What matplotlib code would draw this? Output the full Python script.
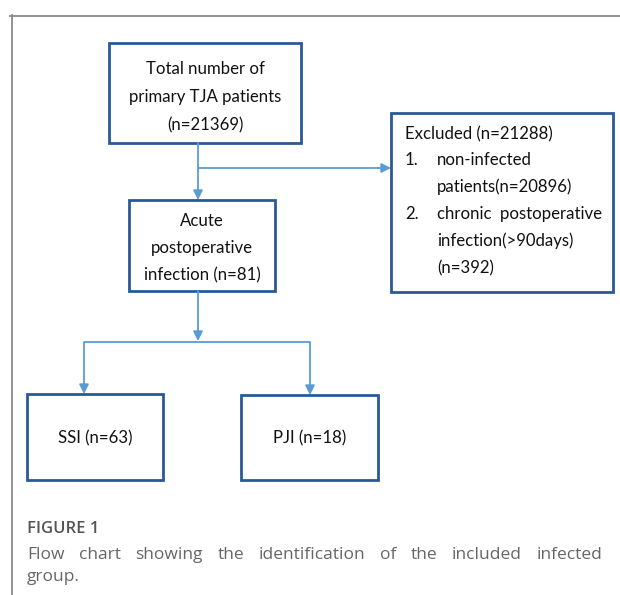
import matplotlib
matplotlib.use("Agg")
import matplotlib.pyplot as plt
from matplotlib.patches import Rectangle, FancyArrowPatch

# ---- data ----
total_label = ["Total number of", "primary TJA patients", "(n=21369)"]
acute_label = ["Acute", "postoperative", "infection (n=81)"]
excluded_label = ["Excluded (n=21288)"]
excluded_items = [("1.", ["non-infected", "patients(n=20896)"]),
                  ("2.", ["chronic  postoperative", "infection(>90days)", "(n=392)"])]
ssi_label = "SSI (n=63)"
pji_label = "PJI (n=18)"
caption_head = "FIGURE 1"
caption_lines = ["Flow chart showing the identification of the included infected", "group."]

W, H = 620, 595
fig = plt.figure(figsize=(W / 100, H / 100), dpi=100)
ax = fig.add_axes([0, 0, 1, 1])
ax.set_xlim(0, W)
ax.set_ylim(H, 0)
ax.axis("off")

box_color = "#2a5a96"
line_color = "#5b9bd5"
font = "Lato"
fs = 12.1
tc = "#111111"

# frame lines
ax.plot([10, W], [15.5, 15.5], color="#8a8a8a", lw=1.3)
ax.plot([11.5, 11.5], [15, H], color="#8a8a8a", lw=1.3)

def box(x0, y0, x1, y1):
    ax.add_patch(Rectangle((x0, y0), x1 - x0, y1 - y0, fill=False,
                           edgecolor=box_color, lw=2.0))

def arrow(x0, y0, x1, y1):
    ax.add_patch(FancyArrowPatch((x0, y0), (x1, y1), arrowstyle="-|>",
                                 mutation_scale=14, color=line_color, lw=1.3,
                                 shrinkA=0, shrinkB=0))

def line(xs, ys):
    ax.plot(xs, ys, color=line_color, lw=1.3, solid_capstyle="butt")

# boxes
box(109, 43, 301, 143)
box(129, 200, 275, 291)
box(391, 113, 613, 292)
box(27, 394, 163, 480)
box(241, 395, 378, 480)

# connectors
arrow(198, 143, 198, 200)
arrow(198, 168, 391, 168)
arrow(198, 291, 198, 341)
line([84, 310], [342, 342])
arrow(84, 342, 84, 394)
arrow(310, 342, 310, 395)

# box texts
for i, t in enumerate(total_label):
    ax.text(205, 69 + i * 28, t, ha="center", va="center", fontsize=fs, family=font, color=tc)
for i, t in enumerate(acute_label):
    ax.text(202, 221 + i * 27, t, ha="center", va="center", fontsize=fs, family=font, color=tc)
ax.text(405, 134, excluded_label[0], ha="left", va="center", fontsize=fs, family=font, color=tc)
y = 160
for num, lines in excluded_items:
    ax.text(405, y, num, ha="left", va="center", fontsize=fs, family=font, color=tc)
    for ln in lines:
        ax.text(437, y, ln, ha="left", va="center", fontsize=fs, family=font, color=tc)
        y += 27
ax.text(95, 438, ssi_label, ha="center", va="center", fontsize=fs, family=font, color=tc)
ax.text(310, 438, pji_label, ha="center", va="center", fontsize=fs, family=font, color=tc)

# caption
ax.text(27, 529, caption_head, ha="left", va="center", fontsize=12,
        family="Open Sans", color="#555555", weight="semibold")
cap_fs = 12.5
words = caption_lines[0].split()
x_left, x_right = 27, 602
renderer = fig.canvas.get_renderer()
widths = []
txts = []
for w_ in words:
    t = ax.text(0, 0, w_, fontsize=cap_fs, family="Open Sans", color="#666666")
    bb = t.get_window_extent(renderer=renderer)
    widths.append(bb.width)
    txts.append(t)
gap = (x_right - x_left - sum(widths)) / (len(words) - 1)
xpos = x_left
for t, wd in zip(txts, widths):
    t.set_position((xpos, 555))
    t.set_va("center")
    xpos += wd + gap
ax.text(27, 577, caption_lines[1], ha="left", va="center", fontsize=cap_fs,
        family="Open Sans", color="#666666")

fig.savefig("out.png", dpi=100, facecolor="white")
